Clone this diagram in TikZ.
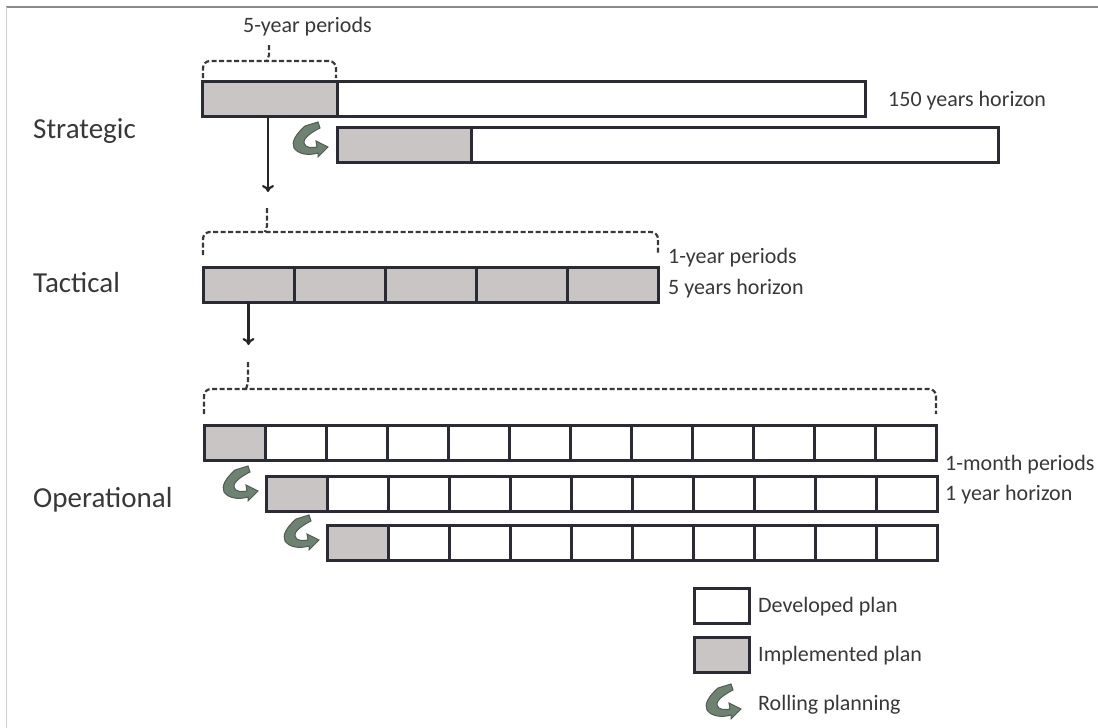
\documentclass[tikz,border=0pt]{standalone}
\usepackage{fontspec}
\setmainfont{Carlito}
\usetikzlibrary{arrows.meta,calc}
\definecolor{txt}{HTML}{383838}
\definecolor{edge}{HTML}{2B2B36}
\definecolor{impl}{HTML}{C9C5C4}
\definecolor{rollf}{HTML}{6E8271}
\definecolor{rolld}{HTML}{4E5E52}
\definecolor{frametop}{HTML}{8A8A8A}
\definecolor{frameleft}{HTML}{CFCFCF}
\begin{document}
\begin{tikzpicture}[x=1pt,y=-1pt,
  cell/.style={draw=edge, line width=3pt, rectangle, inner sep=0pt, outer sep=0pt, anchor=north west, minimum height=35pt, fill=white},
  implcell/.style={cell, fill=impl},
  lbl/.style={text=txt, font=\fontsize{22}{26}\selectfont, anchor=base west, inner sep=0pt},
  level/.style={text=txt, font=\fontsize{29}{34}\selectfont, anchor=base west, inner sep=0pt},
  brace/.style={draw=txt, dash pattern=on 5pt off 2.5pt, line width=2.2pt},
  flow/.style={draw=black!85, line width=2.2pt, -{To[length=7pt,width=12pt]}},
  roll/.pic={\filldraw[fill=rollf, draw=rolld, line width=1pt]
     (13,4) -- (26,0) -- (28,6) .. controls (20,10) and (11,16) .. (12,21)
     .. controls (13,26) and (20,26) .. (25,25) -- (24,19) -- (36,25) -- (26,35) -- (26,31)
     .. controls (16,34) and (6,32) .. (2,26) .. controls (-1,20) and (4,12) .. (13,4) -- cycle;}
]
\useasboundingbox (0,0) rectangle (1098,728);
% frame
\draw[frametop, line width=2pt] (6,6.5) -- (1098,6.5);
\draw[frameleft, line width=1pt] (6.5,7) -- (6.5,728);

% level labels
\node[level] (lstr) at (33,138) {Strategic};
\node[level] (ltac) at (33,292) {Tactical};
\node[level] (lop) at (33,507) {Operational};

% strategic
\node[implcell, minimum width=135pt] (s1g) at (202,81) {};
\node[cell, minimum width=528pt] (s1w) at (337,81) {};
\node[implcell, minimum width=134pt] (s2g) at (337,127) {};
\node[cell, minimum width=527pt] (s2w) at (471,127) {};
\node[lbl] (h150) at (888,106) {150 years horizon};
\node[lbl] (p5) at (243,32) {5-year periods};
\draw[brace, rounded corners=7pt] (203,78) -- (203,61) -- (336,61) -- (336,78);
\draw[brace] (269,45) -- (269,55) -- (267,61);
\pic (rs) at (292,122) {roll};
\coordinate (a1) at (268,192);
\draw[flow] (s1g.south) ++(-1.5,0) -- (a1);

% tactical
\foreach \i in {1,...,5} {
  \node[implcell, minimum width=91pt] (t\i) at ({203+91*(\i-1)},267) {};
}
\draw[brace, rounded corners=7pt] (203,255) -- (203,232) -- (658,232) -- (658,255);
\draw[brace] (267,208) -- (267,226) -- (265,232);
\node[lbl] (p1) at (668,263) {1-year periods};
\node[lbl] (h5) at (668,294) {5 years horizon};
\coordinate (a2) at (248.5,345);
\draw[flow] (t1.south) -- (a2);

% operational
\draw[brace, rounded corners=7pt] (204,414) -- (204,389) -- (936,389) -- (936,414);
\draw[brace] (248,362) -- (248,383) -- (246,389);
\node[implcell, minimum width=61pt] (oa1) at (204,425) {};
\foreach \i in {2,...,12} {
  \node[cell, minimum width=61pt] (oa\i) at ({204+61*(\i-1)},425) {};
}
\node[implcell, minimum width=61pt] (ob1) at (266,476) {};
\foreach \i in {2,...,11} {
  \node[cell, minimum width=61pt] (ob\i) at ({266+61*(\i-1)},476) {};
}
\node[implcell, minimum width=61pt] (oc1) at (327,525) {};
\foreach \i in {2,...,10} {
  \node[cell, minimum width=61pt] (oc\i) at ({327+61*(\i-1)},525) {};
}
\pic (ro1) at (222,466) {roll};
\pic (ro2) at (283,515) {roll};
\node[lbl] (p1m) at (945,470) {1-month periods};
\node[lbl] (h1) at (945,500) {1 year horizon};

% legend
\node[cell, minimum width=55pt] (legw) at (694,588) {};
\node[implcell, minimum width=55pt] (legg) at (694,637) {};
\pic (rl) at (705,684) {roll};
\node[lbl] (tdev) at (758,612) {Developed plan};
\node[lbl] (timp) at (758,661) {Implemented plan};
\node[lbl] (troll) at (758,710) {Rolling planning};
\end{tikzpicture}
\end{document}
